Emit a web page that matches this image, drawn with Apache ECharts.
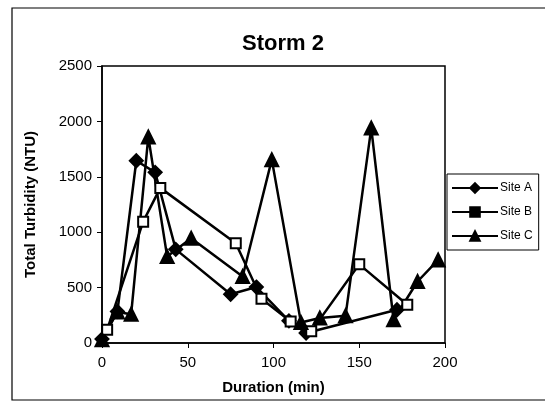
<!DOCTYPE html>
<html>
<head>
<meta charset="utf-8">
<script src="https://cdn.jsdelivr.net/npm/echarts@6/dist/echarts.min.js"></script>
<style>
  html, body { margin: 0; padding: 0; background: #fff; }
  #chart { width: 545px; height: 407px; }
</style>
</head>
<body>
<div id="chart"></div>
<script>
// storm 2 readings: [duration (min), turbidity (NTU)]
const siteA = [[0, 35], [9, 285], [20, 1645], [31, 1540], [43, 845], [75, 440], [90, 505], [109, 200], [119, 90], [172, 300]];
const siteB = [[3, 120], [24, 1095], [34, 1400], [78, 900], [93, 400], [110, 195], [122, 105], [150, 710], [178, 345]];
const siteC = [[0, 30], [9, 280], [17, 260], [27, 1860], [38, 780], [52, 945], [82, 600], [99, 1655], [116, 185], [127, 225], [142, 245], [157, 1940], [170, 210], [184, 555], [196, 750]];
const seriesNames = ["Site A", "Site B", "Site C"];

const chart = echarts.init(document.getElementById("chart"), null, { renderer: "canvas" });

const font = "Liberation Sans, Arial, sans-serif";

const lineSeries = (name, data, symbol, size, fill) => ({
  name: name,
  type: "line",
  data: data,
  symbol: symbol,
  symbolSize: size,
  lineStyle: { color: "#000", width: 2.5 },
  itemStyle: { color: fill, borderColor: "#000", borderWidth: 2 },
  animation: false,
});

const option = {
  backgroundColor: "#fff",
  title: {
    text: "Storm 2",
    left: 278,
    top: 28,
    textAlign: "center",
    textStyle: { fontFamily: font, fontSize: 22, fontWeight: "bold", color: "#000" },
  },
  legend: {
    orient: "vertical",
    left: 447,
    top: 174,
    padding: [8, 6, 8, 4],
    itemWidth: 46,
    itemHeight: 12,
    itemGap: 12,
    borderColor: "#000",
    borderWidth: 1,
    textStyle: { fontFamily: font, fontSize: 12, color: "#000", padding: [0, 0, 0, -3] },
    data: [
      { name: "Site A", itemStyle: { color: "#000" } },
      { name: "Site B", itemStyle: { color: "#000" } },
      { name: "Site C", itemStyle: { color: "#000" } },
    ],
  },
  grid: {
    left: 102,
    top: 66,
    width: 343,
    height: 277,
    show: true,
    borderColor: "#000",
    borderWidth: 1.5,
    backgroundColor: "#fff",
  },
  xAxis: {
    type: "value",
    min: 0,
    max: 200,
    interval: 50,
    name: "Duration (min)",
    nameLocation: "middle",
    nameGap: 37,
    nameTextStyle: { fontFamily: font, fontSize: 15, fontWeight: "bold", color: "#000" },
    axisLine: { show: true, lineStyle: { color: "#000", width: 1.5 } },
    axisTick: { show: true, length: 5, lineStyle: { color: "#000" } },
    axisLabel: { fontFamily: font, fontSize: 15, color: "#000", margin: 12 },
    splitLine: { show: false },
  },
  yAxis: {
    type: "value",
    min: 0,
    max: 2500,
    interval: 500,
    name: "Total Turbidity (NTU)",
    nameLocation: "middle",
    nameGap: 64,
    nameTextStyle: { fontFamily: font, fontSize: 15, fontWeight: "bold", color: "#000" },
    axisLine: { show: true, lineStyle: { color: "#000", width: 1.5 } },
    axisTick: { show: true, length: 5, lineStyle: { color: "#000" } },
    axisLabel: { fontFamily: font, fontSize: 15, color: "#000", margin: 10, formatter: (v) => String(v) },
    splitLine: { show: false },
  },
  graphic: [
    {
      type: "rect",
      shape: { x: 12, y: 8, width: 545, height: 392 },
      style: { fill: "none", stroke: "#000", lineWidth: 1.2 },
      silent: true,
    },
  ],
  series: [
    lineSeries(seriesNames[0], siteA, "diamond", 13, "#000"),
    lineSeries(seriesNames[1], siteB, "rect", 10, "#fff"),
    lineSeries(seriesNames[2], siteC, "triangle", 13, "#000"),
  ],
};

chart.setOption(option);
</script>
</body>
</html>
